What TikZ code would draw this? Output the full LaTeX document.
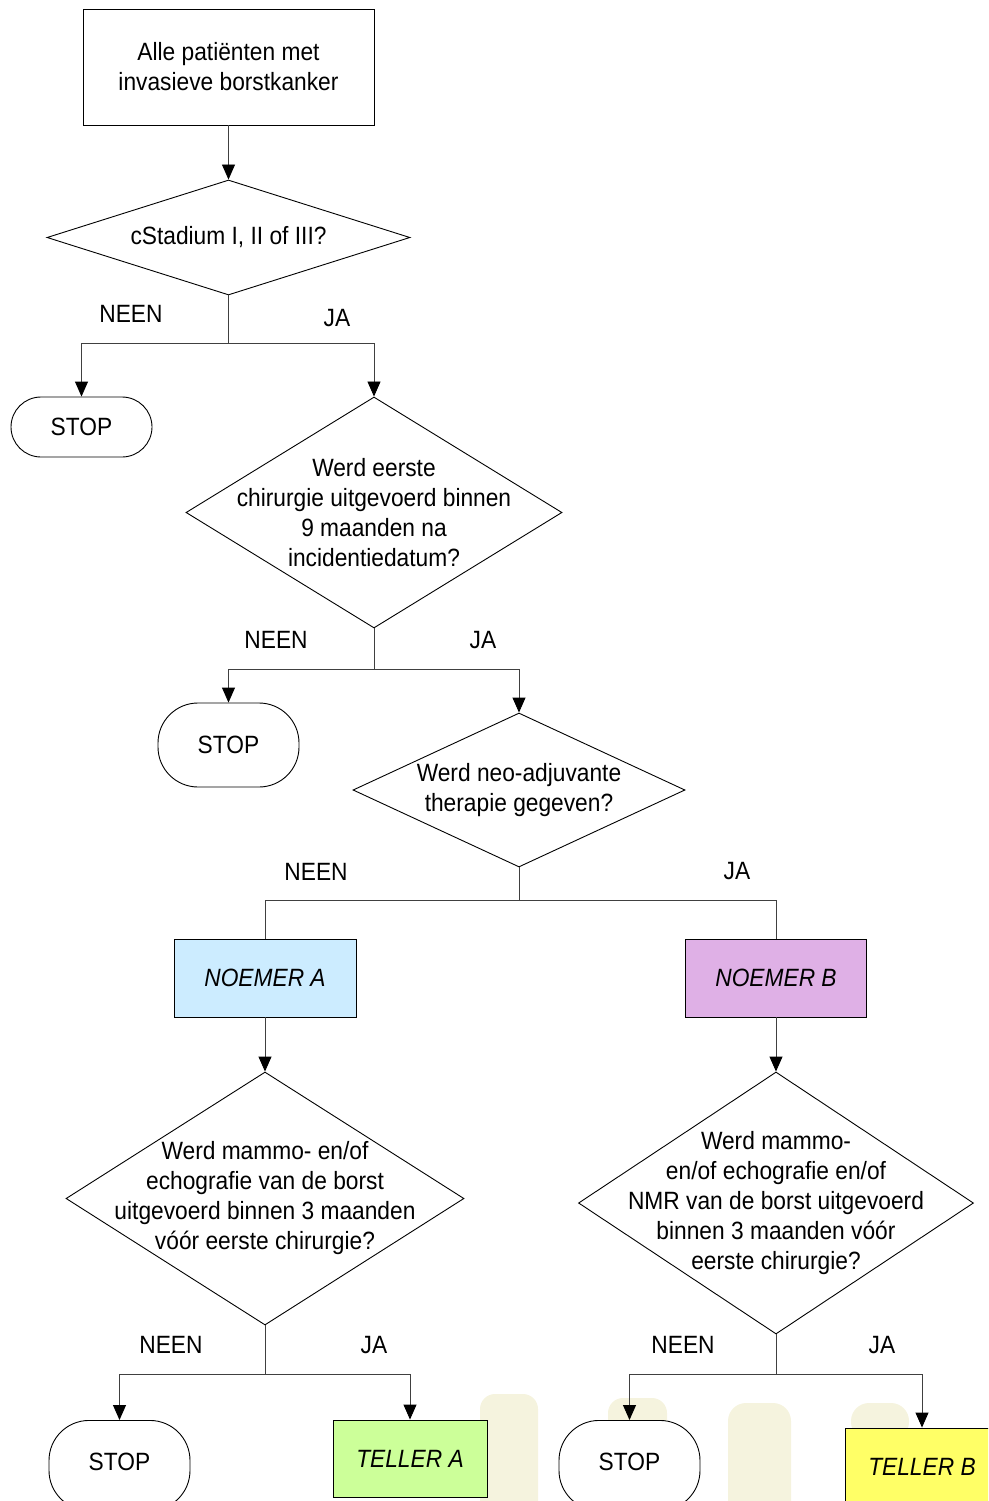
\documentclass[tikz,border=0pt]{standalone}
\usepackage{fontspec}
\setmainfont[FakeStretch=0.91]{Liberation Sans}
\usetikzlibrary{shapes.geometric,arrows.meta}

\definecolor{noemerA}{RGB}{204,236,255}
\definecolor{noemerB}{RGB}{223,176,230}
\definecolor{tellerA}{RGB}{204,255,153}
\definecolor{tellerB}{RGB}{255,255,102}
\definecolor{smudge}{RGB}{245,243,222}

\begin{document}
\begin{tikzpicture}[x=1pt, y=-1pt,
    font=\fontsize{25}{30}\selectfont,
    >={Triangle[width=13pt,length=15pt,black]},
    box/.style={draw, line width=0.9pt, inner sep=0pt, align=center},
    stop/.style={box, fill=white, minimum width=141pt, rounded corners=30pt},
    endstop/.style={stop, anchor=north, text height=50pt, text depth=40pt, rounded corners=40pt},
    count/.style={box, font=\fontsize{25}{30}\selectfont\itshape},
    dia/.style={draw, line width=0.9pt, shape=diamond, inner sep=0pt},
    qtext/.style={align=center, inner sep=0pt},
    lab/.style={inner sep=0pt},
    conn/.style={draw=black!75, line width=0.9pt},
    arr/.style={conn, ->}]
    \clip (0,0) rectangle (988,1501);

    % Faint smudges at the bottom
    \fill[smudge, rounded corners=15pt] (480,1394) rectangle (538,1530);
    \fill[smudge, rounded corners=15pt] (608,1398) rectangle (667,1440);
    \fill[smudge, rounded corners=18pt] (728,1403) rectangle (791,1530);
    \fill[smudge, rounded corners=18pt] (851,1403) rectangle (909,1440);

    % Start
    \node[box, minimum width=291pt, minimum height=116pt] (start) at (228.5,67) {Alle patiënten met\\invasieve borstkanker};

    % Question 1
    \node[dia, minimum width=363pt, minimum height=115pt] (q1) at (228.5,237.5) {};
    \node[qtext] (q1t) at (q1) {cStadium I, II of III?};
    \draw[arr] (start) -- (q1);

    \node[stop, minimum height=60pt] (stop1) at (81.5,427) {STOP};
    \node[dia, minimum width=376pt, minimum height=231pt] (q2) at (374,512.5) {};
    \node[qtext] (q2t) at (q2) {Werd eerste\\chirurgie uitgevoerd binnen\\9 maanden na\\incidentiedatum?};
    \draw[conn] (q1.south) -- ++(0,48) coordinate (f1);
    \draw[arr] (f1) -| (stop1);
    \draw[arr] (f1) -| (q2);
    \node[lab] (no1) at (131,314) {NEEN};
    \node[lab] (yes1) at (337,318) {JA};

    % Question 2
    \node[stop, minimum height=84pt, rounded corners=40pt] (stop2) at (228.5,745) {STOP};
    \node[dia, minimum width=332pt, minimum height=154pt] (q3) at (519,790) {};
    \node[qtext] (q3t) at (q3) {Werd neo-adjuvante\\therapie gegeven?};
    \draw[conn] (q2.south) -- ++(0,41) coordinate (f2);
    \draw[arr] (f2) -| (stop2);
    \draw[arr] (f2) -| (q3);
    \node[lab] (no2) at (276,640) {NEEN};
    \node[lab] (yes2) at (483,640) {JA};

    % Question 3
    \node[count, fill=noemerA, minimum width=182pt, minimum height=78pt] (nA) at (265,978) {NOEMER A};
    \node[count, fill=noemerB, minimum width=181pt, minimum height=78pt] (nB) at (776,978) {NOEMER B};
    \draw[conn] (q3.south) -- ++(0,33) coordinate (f3);
    \draw[conn] (f3) -| (nA);
    \draw[conn] (f3) -| (nB);
    \node[lab] (no3) at (316,872) {NEEN};
    \node[lab] (yes3) at (737,871) {JA};

    % Branch A
    \node[dia, minimum width=398pt, minimum height=253pt] (q4) at (265,1198.5) {};
    \node[qtext] (q4t) at (q4) {Werd mammo- en/of\\echografie van de borst\\uitgevoerd binnen 3 maanden\\vóór eerste chirurgie?};
    \draw[arr] (nA) -- (q4);
    \node[endstop] (stop3) at (119.5,1420) {STOP};
    \node[count, fill=tellerA, minimum width=154pt, minimum height=77pt] (tA) at (410,1458.5) {TELLER A};
    \draw[conn] (q4.south) -- ++(0,49) coordinate (f4);
    \draw[arr] (f4) -| (stop3);
    \draw[arr] (f4) -| (tA);
    \node[lab] (no4) at (171,1345) {NEEN};
    \node[lab] (yes4) at (374,1345) {JA};

    % Branch B
    \node[dia, minimum width=395pt, minimum height=262pt] (q5) at (776,1203) {};
    \node[qtext] (q5t) at (q5) {Werd mammo-\\en/of echografie en/of\\NMR van de borst uitgevoerd\\binnen 3 maanden vóór\\eerste chirurgie?};
    \draw[arr] (nB) -- (q5);
    \node[endstop] (stop4) at (629.5,1420) {STOP};
    \node[count, fill=tellerB, minimum width=153pt, minimum height=77pt] (tB) at (922,1466.5) {TELLER B};
    \draw[conn] (q5.south) -- ++(0,40) coordinate (f5);
    \draw[arr] (f5) -| (stop4);
    \draw[arr] (f5) -| (tB);
    \node[lab] (no5) at (683,1345) {NEEN};
    \node[lab] (yes5) at (882,1345) {JA};
\end{tikzpicture}
\end{document}
